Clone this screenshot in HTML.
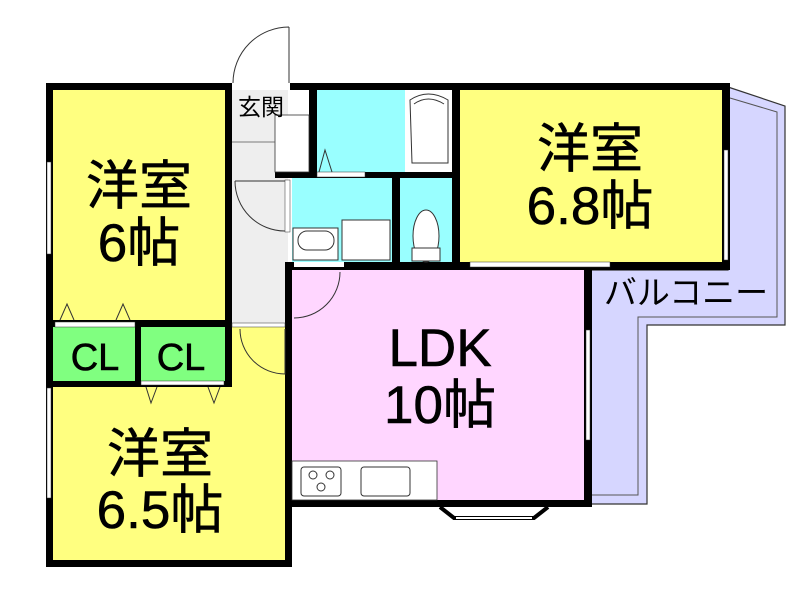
<!DOCTYPE html>
<html><head><meta charset="utf-8"><style>
html,body{margin:0;padding:0;background:#fff;width:800px;height:600px;overflow:hidden}
svg{display:block}
text{font-family:"Liberation Sans","Noto Sans CJK JP",sans-serif;fill:#000}
</style></head><body>
<svg width="800" height="600" viewBox="0 0 800 600" xmlns="http://www.w3.org/2000/svg">
<polygon points="728,87 785,106 785,325 647,325 647,504 590,504 590,270 728,270" fill="#d6d6ff" stroke="#333" stroke-width="1.2"/>
<polyline points="730,98 777,112 777,317 638,317 638,495 592,495" fill="none" stroke="#555" stroke-width="1"/>
<rect x="53" y="90" width="172" height="232" fill="#ffff80"/>
<rect x="53" y="386" width="235" height="175" fill="#ffff80"/>
<rect x="232" y="90" width="56" height="233" fill="#eeeeee"/>
<rect x="232" y="327" width="56" height="60" fill="#ffff80"/>
<rect x="460" y="90" width="262" height="172" fill="#ffff80"/>
<rect x="292" y="270" width="292" height="231" fill="#ffd6ff"/>
<rect x="317" y="90" width="88" height="82" fill="#99ffff"/>
<rect x="405" y="90" width="47" height="82" fill="#fff"/>
<rect x="292" y="178" width="100" height="84" fill="#99ffff"/>
<rect x="400" y="178" width="52" height="84" fill="#99ffff"/>
<rect x="53" y="327" width="82" height="54" fill="#80ff80"/>
<rect x="141" y="327" width="84" height="54" fill="#80ff80"/>
<g fill="#000">
<rect x="46" y="83" width="186" height="7"/>
<rect x="290" y="83" width="440" height="7"/>
<rect x="46" y="83" width="7" height="484"/>
<rect x="225" y="83" width="7" height="304"/>
<rect x="46" y="320" width="186" height="7"/>
<rect x="135" y="320" width="6" height="67"/>
<rect x="46" y="381" width="186" height="6"/>
<rect x="46" y="560" width="246" height="7"/>
<rect x="285" y="262" width="7" height="305"/>
<rect x="309" y="83" width="8" height="95"/>
<rect x="275" y="172" width="185" height="6"/>
<rect x="452" y="83" width="8" height="187"/>
<rect x="392" y="172" width="8" height="98"/>
<rect x="285" y="262" width="445" height="8"/>
<rect x="722" y="83" width="8" height="187"/>
<rect x="584" y="262" width="8" height="245"/>
<rect x="285" y="500" width="307" height="7"/>
</g>
<rect x="232" y="83" width="58" height="7" fill="#fff"/>
<rect x="55" y="322" width="80" height="5" fill="#fff" stroke="#333" stroke-width="0.5"/>
<rect x="141" y="381" width="83" height="4" fill="#fff" stroke="#333" stroke-width="0.5"/>
<rect x="232" y="323" width="53" height="4" fill="#fff" stroke="#333" stroke-width="0.5"/>
<rect x="470" y="262" width="140" height="5" fill="#fff" stroke="#333" stroke-width="0.5"/>
<rect x="47" y="162" width="4" height="92" fill="#fff" stroke="#333" stroke-width="0.5"/>
<rect x="47" y="388" width="4" height="110" fill="#fff" stroke="#333" stroke-width="0.5"/>
<rect x="724" y="150" width="4" height="110" fill="#fff" stroke="#333" stroke-width="0.5"/>
<rect x="586" y="330" width="4" height="110" fill="#fff" stroke="#333" stroke-width="0.5"/>
<rect x="285" y="180" width="5" height="52" fill="#fff" stroke="#333" stroke-width="0.5"/>
<rect x="317" y="172" width="48" height="5" fill="#fff" stroke="#333" stroke-width="0.5"/>
<rect x="294" y="262" width="50" height="5" fill="#fff"/>
<rect x="275" y="115" width="34" height="57" fill="#fff" stroke="#333" stroke-width="0.8"/>
<line x1="232" y1="142" x2="275" y2="142" stroke="#555" stroke-width="0.8"/>
<g fill="none" stroke="#333" stroke-width="1">
<path d="M289,27 L289,83 M289,27 A56,56 0 0 0 233,83"/>
<path d="M235,181 L285,181 M235,181 A50,50 0 0 0 285,231"/>
<path d="M240,329 A45,45 0 0 0 285,374 L285,329"/>
<path d="M294,318 A46,46 0 0 0 340,272"/>
<path d="M60,320 L67,304 L74,320 M116,320 L123,304 L130,320"/>
<path d="M146,387 L151,403 L157,387 M208,387 L214,403 L220,387"/>
<path d="M319,172 L325,150 L332,172"/>
</g>
<path d="M410,100 Q428,88 448,100 L448,163 L412,163 Z" fill="#fff" stroke="#333"/>
<path d="M414,104 Q428,94 444,104" fill="none" stroke="#333"/>
<rect x="293" y="228" width="45" height="32" fill="#fff" stroke="#333"/>
<rect x="298" y="231" width="36" height="19" rx="9" fill="#fff" stroke="#333"/>
<rect x="342" y="220" width="48" height="40" fill="#fff" stroke="#333"/>
<ellipse cx="426" cy="236" rx="13" ry="26" fill="#fff" stroke="#333"/>
<rect x="412" y="248" width="28" height="13" fill="#fff" stroke="#333"/>
<rect x="292" y="461" width="145" height="39" fill="#fff" stroke="#333" stroke-width="0.8"/>
<rect x="301" y="467" width="40" height="29" rx="3" fill="#fff" stroke="#333"/>
<circle cx="313" cy="475" r="4" fill="none" stroke="#333"/><circle cx="330" cy="475" r="4" fill="none" stroke="#333"/><circle cx="321" cy="487" r="4" fill="none" stroke="#333"/>
<rect x="361" y="467" width="49" height="29" rx="3" fill="#fff" stroke="#333"/>
<path d="M440,507 L454,518 L534,518 L548,507" fill="#fff" stroke="#000" stroke-width="4"/>
<line x1="456" y1="518" x2="532" y2="518" stroke="#fff" stroke-width="2"/>
<g text-anchor="middle" stroke="#000" stroke-width="0.6">
<text x="139" y="204" font-size="53">洋室</text>
<text x="139" y="261" font-size="53">6帖</text>
<text x="590" y="167" font-size="53">洋室</text>
<text x="590" y="224" font-size="53">6.8帖</text>
<text x="440" y="366" font-size="53">LDK</text>
<text x="440" y="423" font-size="53">10帖</text>
<text x="160" y="472" font-size="53">洋室</text>
<text x="160" y="528" font-size="53">6.5帖</text>
<text x="95" y="370" font-size="38">CL</text>
<text x="181" y="370" font-size="38">CL</text>
</g>
<g text-anchor="middle">
<text x="686" y="304" font-size="33">バルコニー</text>
<text x="261" y="115" font-size="23">玄関</text>
</g>
</svg>
</body></html>
